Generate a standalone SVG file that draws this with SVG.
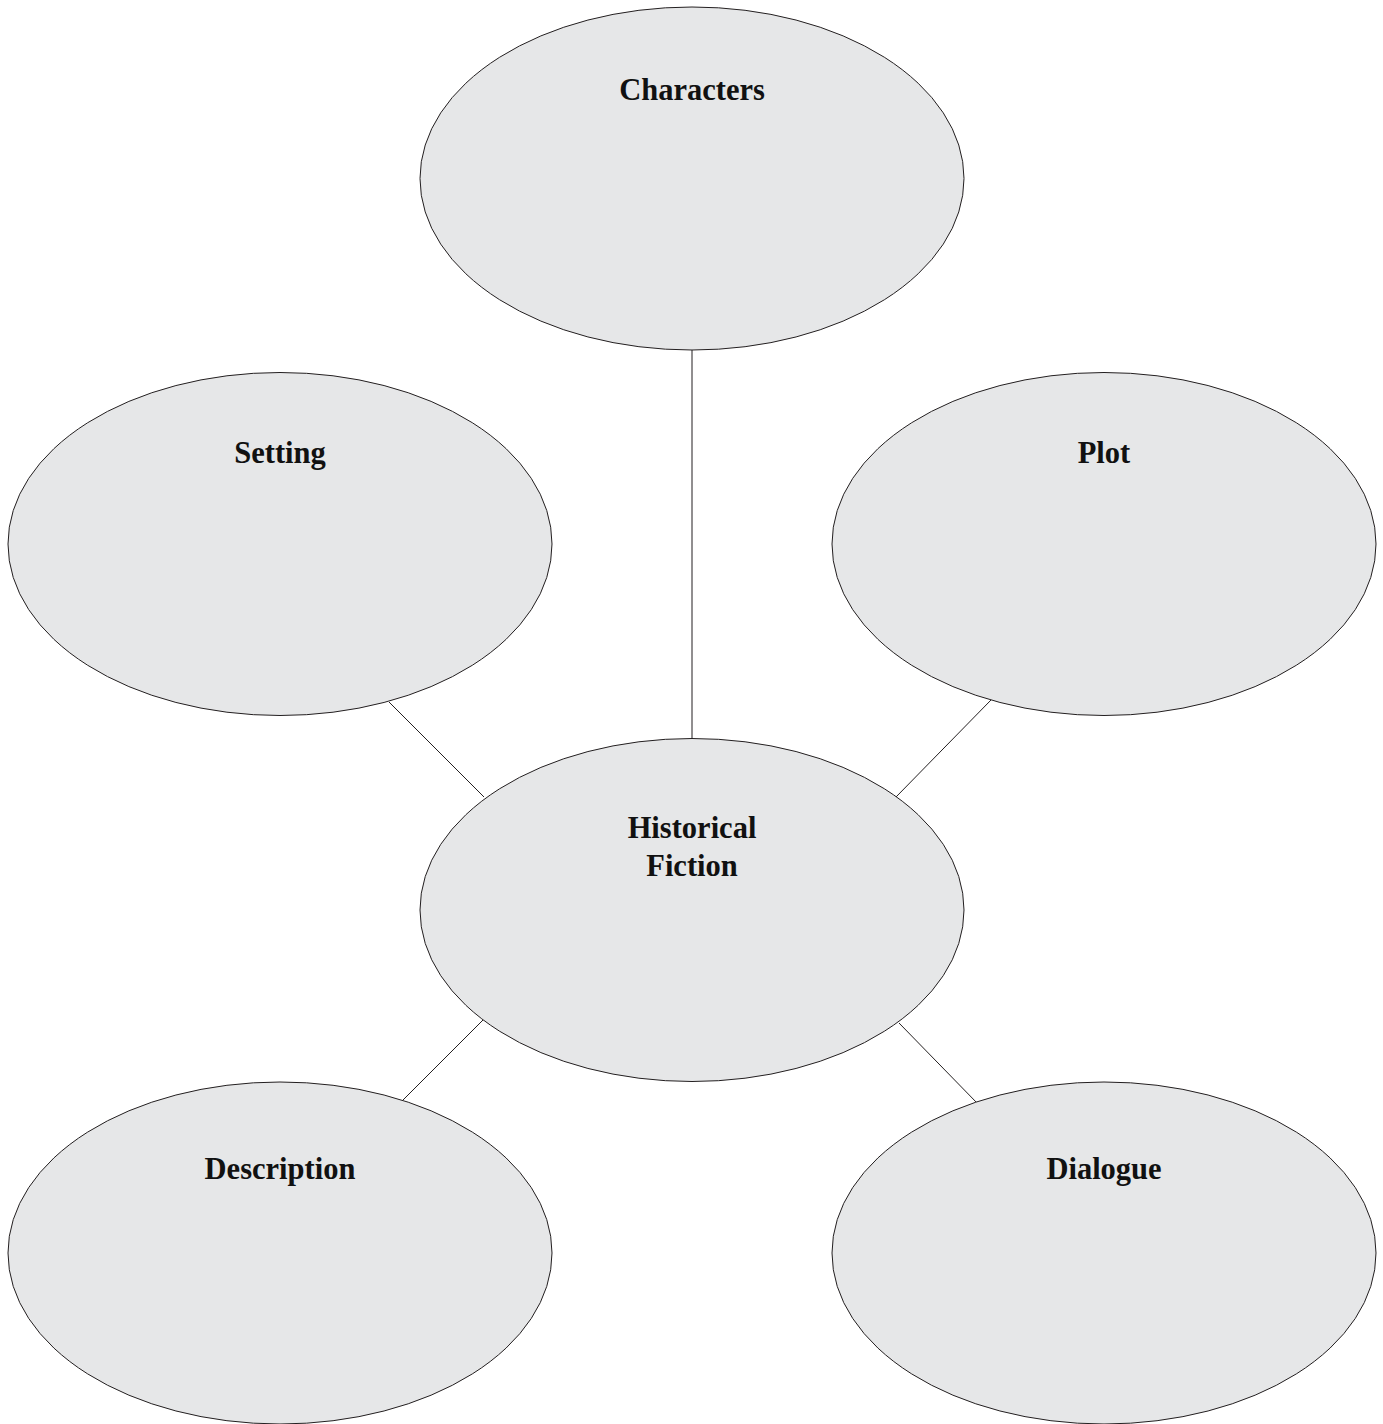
<svg xmlns="http://www.w3.org/2000/svg" width="1383" height="1424" viewBox="0 0 1383 1424">
<style>
.n{fill:#e6e7e8;stroke:#231f20;stroke-width:1}
.t{font-family:"Liberation Serif",serif;font-weight:bold;font-size:30.5px;fill:#111;text-anchor:middle}
.c{stroke:#231f20;stroke-width:1;fill:none}
</style>
<rect width="1383" height="1424" fill="#fff"/>
<g id="connectors">
<line class="c" x1="692" y1="350" x2="692" y2="739"/>
<line class="c" x1="389" y1="702" x2="484" y2="797"/>
<line class="c" x1="991" y1="700" x2="896" y2="797"/>
<line class="c" x1="483" y1="1020" x2="401" y2="1102"/>
<line class="c" x1="899" y1="1023" x2="978" y2="1104"/>
</g>
<g id="characters"><ellipse class="n" cx="692" cy="178.5" rx="272" ry="171.5"/><text class="t" x="692" y="100">Characters</text></g>
<g id="setting"><ellipse class="n" cx="280" cy="544" rx="272" ry="171.5"/><text class="t" x="280" y="463">Setting</text></g>
<g id="plot"><ellipse class="n" cx="1104" cy="544" rx="272" ry="171.5"/><text class="t" x="1104" y="463">Plot</text></g>
<g id="historical-fiction"><ellipse class="n" cx="692" cy="910" rx="272" ry="171.5"/><text class="t" x="692" y="838">Historical</text><text class="t" x="692" y="876">Fiction</text></g>
<g id="description"><ellipse class="n" cx="280" cy="1253" rx="272" ry="171"/><text class="t" x="280" y="1179">Description</text></g>
<g id="dialogue"><ellipse class="n" cx="1104" cy="1253" rx="272" ry="171"/><text class="t" x="1104" y="1179">Dialogue</text></g>
</svg>
